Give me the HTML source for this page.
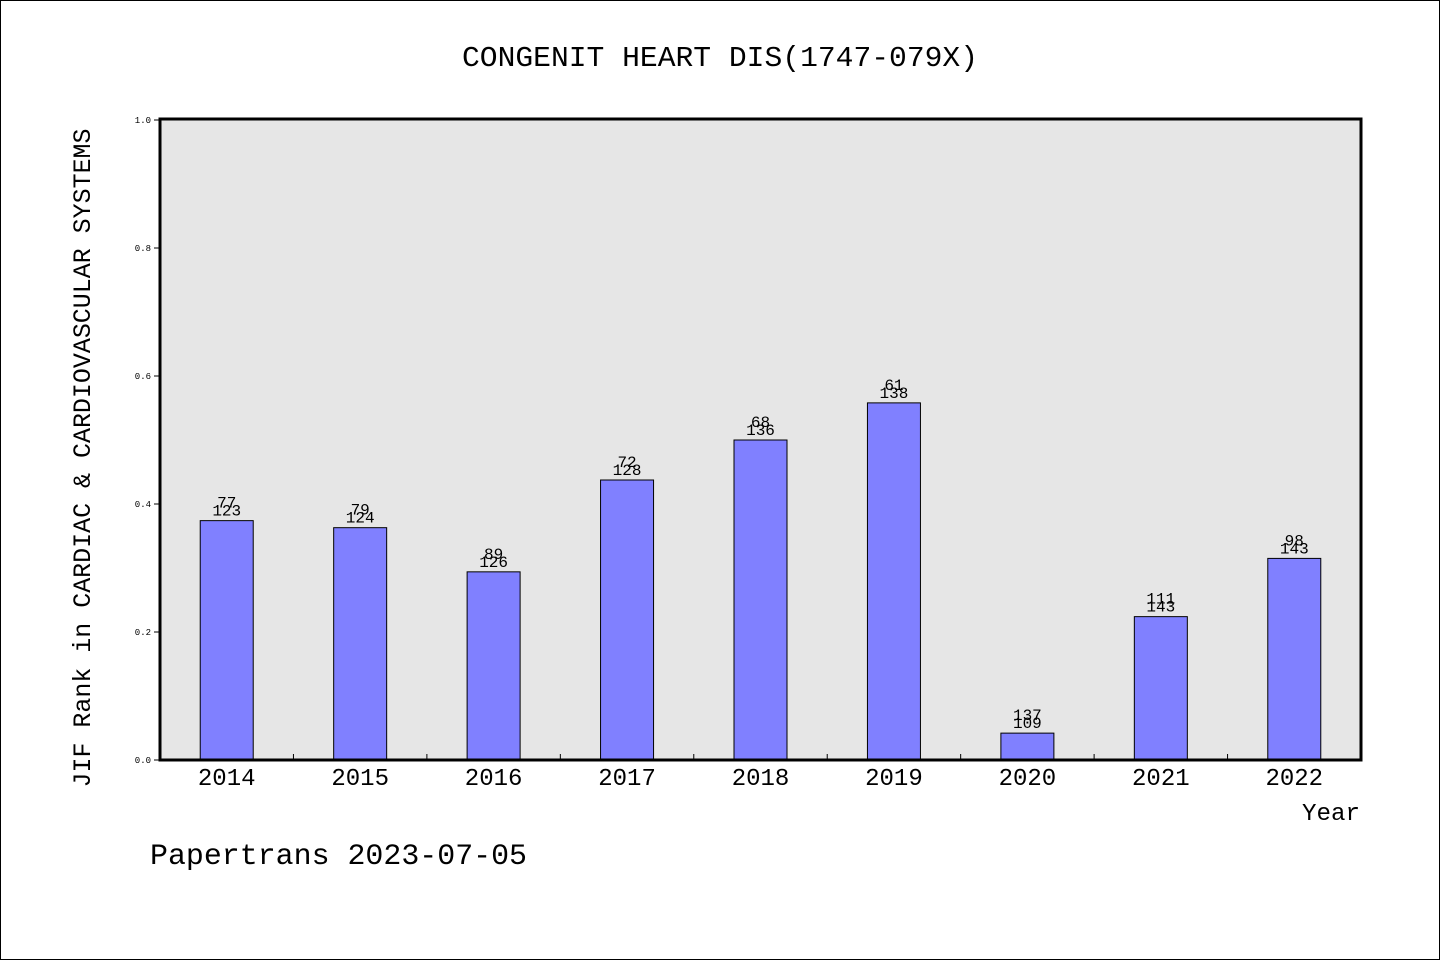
<!DOCTYPE html>
<html><head><meta charset="utf-8"><style>
html,body{margin:0;padding:0;background:#fff}
svg{display:block}
text{font-family:"Liberation Mono","WenQuanYi Zen Hei",monospace;fill:#000}
</style></head><body>
<svg id="chart" width="1440" height="960" viewBox="0 0 1440 960" xmlns="http://www.w3.org/2000/svg">
<rect x="0.5" y="0.5" width="1439" height="959" fill="#fff" stroke="#000"/>
<text x="720" y="66" text-anchor="middle" font-size="29" textLength="516" lengthAdjust="spacingAndGlyphs">CONGENIT HEART DIS(1747-079X)</text>
<rect x="160" y="119" width="1201" height="641" fill="#e6e6e6"/>
<g id="bars"></g>
<g id="yticks"></g>
<g id="xticks"></g>
<rect x="160" y="119" width="1201" height="641" fill="none" stroke="#000" stroke-width="3"/>
<text transform="translate(90,458) rotate(-90)" text-anchor="middle" font-size="25" textLength="659" lengthAdjust="spacingAndGlyphs">JIF Rank in CARDIAC &amp; CARDIOVASCULAR SYSTEMS</text>
<text x="1360" y="820" text-anchor="end" font-size="24" textLength="58" lengthAdjust="spacingAndGlyphs">Year</text>
<text x="150" y="864" font-size="30" textLength="377" lengthAdjust="spacingAndGlyphs">Papertrans 2023-07-05</text>
</svg>
<script>
const categories = ["2014","2015","2016","2017","2018","2019","2020","2021","2022"];
const values = [0.374,0.363,0.294,0.4375,0.5,0.558,0.042,0.224,0.315];
const rankLabels = ["77","79","89","72","68","61","137","111","98"];
const totalLabels = ["123","124","126","128","136","138","109","143","143"];
const yTicks = [0,0.2,0.4,0.6,0.8,1.0];
const yTickLabels = ["0.0","0.2","0.4","0.6","0.8","1.0"];

const NS="http://www.w3.org/2000/svg";
const X0=160,X1=1361,Y0=760,Y1=120;
const band=(X1-X0)/categories.length;
const xC=i=>X0+band*(i+0.5);
const y=v=>Y0-(v)*(Y0-Y1);
function mk(tag,attrs,parent){const e=document.createElementNS(NS,tag);for(const k in attrs)e.setAttribute(k,attrs[k]);parent.appendChild(e);return e;}
const bars=document.getElementById('bars'),yt=document.getElementById('yticks'),xt=document.getElementById('xticks');
categories.forEach((c,i)=>{
  const top=y(values[i]);
  const r=mk('rect',{x:xC(i)-26.5,y:top,width:53,height:Y0-top,fill:'#8080ff',stroke:'#000','stroke-width':1},bars);
  
  
  const t1=mk('text',{x:xC(i),y:top-26+13,'text-anchor':'middle','font-size':16},bars);
  t1.textContent=rankLabels[i];
  
  
  const t2=mk('text',{x:xC(i),y:top-5,'text-anchor':'middle','font-size':16},bars);
  t2.textContent=totalLabels[i];
  
  
  const xl=mk('text',{x:xC(i),y:785,'text-anchor':'middle','font-size':24},xt);
  xl.textContent=c;
  
  
  if(i>0){
    const tk=mk('line',{x1:X0+band*i,x2:X0+band*i,y1:Y0,y2:Y0-6,stroke:'#000','stroke-width':1},xt);
    
    
  }
});
yTicks.forEach((v,i)=>{
  const ln=mk('line',{x1:X0-6,x2:X0,y1:y(v),y2:y(v),stroke:'#000','stroke-width':1},yt);
  
  
  const t=mk('text',{x:X0-9,y:y(v)+3,'text-anchor':'end','font-size':9},yt);
  t.textContent=yTickLabels[i];
  
  
});
</script>
</body></html>
